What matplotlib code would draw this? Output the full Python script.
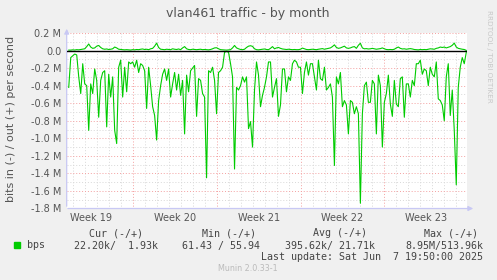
import matplotlib
matplotlib.use("Agg")
import matplotlib.pyplot as plt
import pandas as pd
import numpy as np

# ---- data (values in M bit/s) ----
bps_in = [
    -0.42, -0.08, -0.06, -0.04, -0.05, -0.30, -0.49, -0.15, -0.38, -0.40,
    -0.91, -0.38, -0.49, -0.21, -0.34, -0.76, -0.34, -0.25, -0.23, -0.87,
    -0.27, -0.53, -0.30, -0.91, -1.06, -0.19, -0.11, -0.53,
    -0.19, -0.47, -0.13, -0.15, -0.13, -0.19, -0.11, -0.25, -0.15, -0.17,
    -0.23, -0.66, -0.19, -0.40, -0.64, -0.74, -1.02, -0.57, -0.40, -0.27,
    -0.21, -0.34, -0.21, -0.53, -0.38, -0.25, -0.45, -0.27, -0.51,
    -0.34, -0.95, -0.28, -0.47, -0.23, -0.20, -0.17, -0.75, -0.32, -0.34,
    -0.49, -0.53, -1.45, -0.23, -0.25, -0.19, -0.34, -0.72, -0.25, -0.23,
    -0.19, -0.02, -0.01, -0.02, -0.15, -0.30, -1.35, -0.42, -0.45,
    -0.40, -0.30, -0.36, -0.30, -0.89, -0.81, -1.10, -0.45, -0.13, -0.28,
    -0.64, -0.51, -0.42, -0.30, -0.13, -0.13, -0.53, -0.42, -0.32, -0.75,
    -0.62, -0.21, -0.21, -0.47, -0.30, -0.34, -0.15, -0.11, -0.13,
    -0.19, -0.19, -0.49, -0.25, -0.13, -0.28, -0.15, -0.15, -0.30, -0.45,
    -0.11, -0.32, -0.34, -0.19, -0.45, -0.42, -0.38, -0.53, -1.31, -0.30,
    -0.38, -0.25, -0.64, -0.57, -0.62, -0.95, -0.57, -0.59, -0.72,
    -0.64, -0.72, -1.74, -0.72, -0.40, -0.36, -0.59, -0.59, -0.34, -0.38,
    -0.95, -0.28, -0.40, -1.10, -0.59, -0.49, -0.28, -0.61, -0.75, -0.34,
    -0.61, -0.64, -0.32, -0.30, -0.76, -0.38, -0.38, -0.53, -0.34,
    -0.40, -0.15, -0.15, -0.11, -0.27, -0.21, -0.23, -0.40, -0.19, -0.27,
    -0.30, -0.13, -0.55, -0.57, -0.62, -0.80, -0.30, -0.15, -0.74, -0.45,
    -0.91, -1.53, -0.42, -0.19, -0.08, -0.15, -0.022,
]
bps_out = [
    0.005, 0.005, 0.008, 0.006, 0.010, 0.008, 0.012, 0.015, 0.020, 0.045,
    0.075, 0.040, 0.025, 0.030, 0.050, 0.058, 0.035, 0.020, 0.015, 0.018,
    0.012, 0.015, 0.020, 0.040, 0.030, 0.015, 0.012, 0.010,
    0.008, 0.010, 0.008, 0.006, 0.010, 0.008, 0.012, 0.010, 0.015, 0.018,
    0.012, 0.015, 0.010, 0.020, 0.025, 0.050, 0.085, 0.035, 0.015, 0.012,
    0.010, 0.015, 0.012, 0.010, 0.020, 0.015, 0.012, 0.018, 0.010,
    0.030, 0.045, 0.020, 0.012, 0.010, 0.015, 0.012, 0.010, 0.012, 0.015,
    0.010, 0.012, 0.010, 0.008, 0.012, 0.020, 0.030, 0.032, 0.020, 0.010,
    0.008, 0.005, 0.005, 0.008, 0.010, 0.030, 0.058, 0.030, 0.020,
    0.012, 0.010, 0.015, 0.035, 0.050, 0.055, 0.048, 0.020, 0.010, 0.008,
    0.012, 0.015, 0.018, 0.012, 0.010, 0.025, 0.045, 0.020, 0.030, 0.035,
    0.025, 0.018, 0.015, 0.012, 0.015, 0.012, 0.010, 0.012, 0.010,
    0.010, 0.015, 0.028, 0.020, 0.012, 0.010, 0.012, 0.015, 0.012, 0.010,
    0.015, 0.018, 0.022, 0.015, 0.020, 0.025, 0.030, 0.045, 0.065, 0.035,
    0.025, 0.030, 0.040, 0.050, 0.030, 0.025, 0.030, 0.040, 0.045,
    0.025, 0.060, 0.083, 0.030, 0.020, 0.022, 0.018, 0.020, 0.025, 0.020,
    0.015, 0.018, 0.022, 0.030, 0.020, 0.012, 0.010, 0.012, 0.010, 0.015,
    0.030, 0.040, 0.025, 0.018, 0.020, 0.015, 0.018, 0.022, 0.018,
    0.012, 0.010, 0.008, 0.012, 0.010, 0.012, 0.010, 0.015, 0.020, 0.018,
    0.015, 0.025, 0.030, 0.040, 0.035, 0.040, 0.030, 0.038, 0.045, 0.060,
    0.085, 0.040, 0.025, 0.020, 0.015, 0.012, 0.002,
]
times = pd.date_range(end="2025-06-07 19:50", periods=len(bps_in), freq="4h")

y_ticks = [0.2, 0.0, -0.2, -0.4, -0.6, -0.8, -1.0, -1.2, -1.4, -1.6, -1.8]
y_labels = ["0.2 M", "0.0", "-0.2 M", "-0.4 M", "-0.6 M", "-0.8 M", "-1.0 M",
            "-1.2 M", "-1.4 M", "-1.6 M", "-1.8 M"]
week_starts = pd.to_datetime(["2025-05-11", "2025-05-18", "2025-05-25", "2025-06-01"])
week_mids = pd.to_datetime(["2025-05-07 12:00", "2025-05-14 12:00", "2025-05-21 12:00",
                            "2025-05-28 12:00", "2025-06-04 12:00"])
week_labels = ["Week 19", "Week 20", "Week 21", "Week 22", "Week 23"]
days = pd.date_range("2025-05-06", "2025-06-07", freq="D")

cols = ["Cur (-/+)", "Min (-/+)", "Avg (-/+)", "Max (-/+)"]
col_vals = ["22.20k/  1.93k", "61.43 / 55.94", "395.62k/ 21.71k", "8.95M/513.96k"]

# ---- figure ----
W, H = 497, 280
fig = plt.figure(figsize=(W / 100, H / 100), dpi=100, facecolor="#f0f0f0")
ax = fig.add_axes([66.7 / W, 1 - 208.5 / H, 400.3 / W, 175.5 / H])
ax.set_facecolor("white")

t0 = pd.Timestamp("2025-05-05 11:45")
t1 = pd.Timestamp("2025-06-07 21:20")
ax.set_xlim(t0, t1)
ax.set_ylim(-1.8, 0.2)

dots = (0, (1, 2))
for d in days:
    if d not in week_starts:
        ax.axvline(d, color="#d8d8d8", lw=0.7, ls=dots, zorder=1)
for d in week_starts:
    ax.axvline(d, color="#f4a0a0", lw=0.7, ls=dots, zorder=1)
for v in np.arange(-1.7, 0.2, 0.2):
    ax.axhline(v, color="#d8d8d8", lw=0.7, ls=dots, zorder=1)
for v in y_ticks:
    ax.axhline(v, color="#f4a0a0", lw=0.7, ls=dots, zorder=1)

ax.plot(times, bps_in, color="#00cc00", lw=0.8, zorder=3)
ax.plot(times, bps_out, color="#00cc00", lw=0.8, zorder=3)
ax.axhline(0, color="black", lw=1.0, zorder=4)

for s in ax.spines.values():
    s.set_visible(False)
ax.set_yticks(y_ticks, y_labels)
ax.set_xticks(week_mids, week_labels)
ax.tick_params(axis="both", length=0, labelsize=7, labelcolor="#555555", pad=4)
ax.tick_params(axis="x", pad=3)

# axis arrows
arrow = dict(arrowstyle="-|>", color="#c8c8f4", lw=0.9, mutation_scale=7)
ax.annotate("", xy=(66.7, H - 26), xytext=(66.7, H - 209), xycoords="figure pixels",
            textcoords="figure pixels", arrowprops=arrow)
ax.annotate("", xy=(476, H - 208.5), xytext=(65, H - 208.5), xycoords="figure pixels",
            textcoords="figure pixels", arrowprops=arrow)


def ftext(x, y, s, **kw):
    fig.text(x / W, 1 - y / H, s, **kw)


ftext(248, 14, "vlan461 traffic - by month", ha="center", va="center",
      fontsize=9, color="#555555")
ftext(11, 119, "bits in (-) / out (+) per second", rotation=90, ha="center",
      va="center", fontsize=8, color="#555555")
ftext(489, 56, "RRDTOOL / TOBI OETIKER", rotation=270, ha="center", va="center",
      fontsize=5.2, color="#c8c8c8")

mono = dict(family="DejaVu Sans Mono", fontsize=7.2, color="#444444", va="center")
for x, s in zip([89, 202, 313, 424], cols):
    ftext(x, 233, s, ha="left", **mono)
for x, s in zip([158, 260, 375, 483], col_vals):
    ftext(x, 245.5, s, ha="right", **mono)
fig.patches.append(plt.Rectangle((14 / W, 1 - 248.3 / H), 6 / W, 6 / H,
                                 transform=fig.transFigure, color="#00cc00"))
ftext(27, 245.5, "bps", ha="left", **mono)
ftext(483, 257.5, "Last update: Sat Jun  7 19:50:00 2025", ha="right", **mono)
ftext(248, 268.5, "Munin 2.0.33-1", ha="center", va="center", fontsize=5.8,
      color="#bbbbbb")

fig.savefig("out.png", dpi=100, facecolor=fig.get_facecolor())
